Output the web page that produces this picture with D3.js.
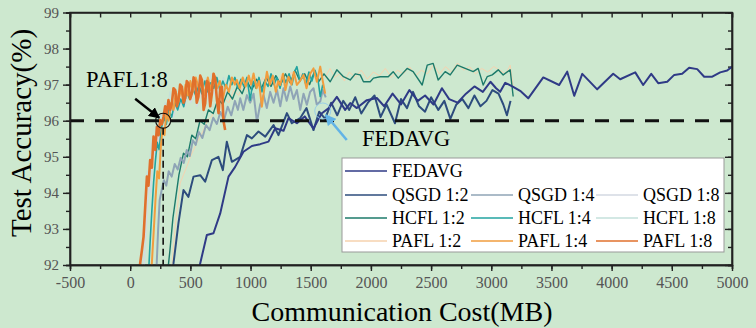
<!DOCTYPE html>
<meta charset="utf-8">
<style>
body { margin: 0; background: #cde8cf; }
svg text { font-family: "Liberation Serif", "Times New Roman", serif; }
</style>
<body>
<div id="chart"></div>
<script src="https://cdn.jsdelivr.net/npm/d3@7"></script>
<script>
// each curve: [communication cost (MB), test accuracy (%)]
var fedavg = [[560,91.6],[582,92.05],[637,92.83],[692,92.88],[748,93.43],[817,94.45],[872,94.72],[941,95.14],[1011,95.30],[1080,95.35],[1149,95.42],[1205,95.79],[1274,95.72],[1315,96.07],[1385,95.93],[1450,96.12],[1523,95.78],[1590,96.20],[1650,96.35],[1717,96.66],[1786,96.30],[1828,96.49],[1883,96.35],[1966,96.57],[2049,96.63],[2110,96.40],[2180,96.75],[2250,96.45],[2320,96.85],[2390,96.55],[2450,96.70],[2520,96.45],[2590,96.90],[2650,96.60],[2720,96.50],[2790,96.75],[2860,96.95],[2930,96.80],[2993,97.08],[3040,96.90],[3074,96.80],[3116,97.05],[3182,96.94],[3240,96.83],[3307,96.62],[3432,97.20],[3564,96.99],[3631,97.36],[3689,96.69],[3756,97.30],[3880,96.87],[4013,97.30],[4071,97.15],[4196,97.34],[4262,96.99],[4329,97.30],[4387,97.04],[4462,97.08],[4520,97.27],[4586,97.30],[4644,97.47],[4711,97.43],[4769,97.22],[4836,97.22],[4902,97.34],[4960,97.39],[5002,97.50]];

var qsgd2 = [[340,91.6],[360,92.05],[401,93.16],[443,94.08],[484,93.89],[526,94.45],[582,94.49],[623,94.31],[679,94.91],[733,95.00],[770,94.63],[803,95.42],[845,94.86],[914,95.00],[970,95.60],[1011,95.51],[1066,95.70],[1122,95.56],[1191,95.88],[1232,95.60],[1302,96.21],[1343,95.93],[1412,96.07],[1465,96.35],[1523,95.74],[1570,96.25],[1620,96.05],[1670,96.50],[1720,96.15],[1770,96.55],[1820,96.30],[1870,96.65],[1920,96.20],[1975,96.50],[2030,96.70],[2080,96.10],[2130,96.45],[2200,95.93],[2250,96.60],[2300,96.35],[2350,96.80],[2400,96.40],[2450,96.25],[2500,96.65],[2560,96.30],[2610,96.55],[2660,96.05],[2710,96.45],[2760,96.60],[2810,96.35],[2860,96.70],[2910,96.40],[2960,96.55],[3010,96.85],[3060,96.75],[3100,96.45],[3130,96.15],[3160,96.55]];

var qsgd4 = [[215,91.6],[232,92.97],[245,93.80],[262,94.08],[280,94.35],[300,94.20],[320,94.60],[345,94.45],[370,94.80],[395,94.65],[420,94.97],[445,94.83],[470,95.19],[495,95.02],[520,95.46],[545,95.33],[570,95.69],[600,95.52],[630,95.88],[660,95.74],[690,96.08],[720,95.91],[750,96.24],[780,96.02],[810,96.39],[840,96.15],[870,96.55],[895,96.30],[914,96.62],[940,96.30],[970,96.71],[997,96.50],[1025,96.75],[1053,95.97],[1080,96.45],[1108,96.71],[1135,96.35],[1163,96.80],[1191,96.50],[1220,96.85],[1247,96.40],[1274,96.90],[1300,96.55],[1330,96.95],[1357,96.60],[1385,96.85],[1413,96.30],[1440,96.75],[1468,96.44],[1495,96.80],[1523,96.90],[1550,96.45],[1579,96.53],[1600,96.85],[1625,96.65]];

var qsgd8 = [[110,91.6],[125,92.6],[140,93.5],[155,94.2],[170,94.0],[185,94.8],[200,95.2],[215,95.0],[230,95.6],[245,95.4],[260,95.9],[280,95.7],[300,96.2],[320,96.0],[340,96.4],[360,96.1],[385,96.6],[405,96.3],[430,96.7],[455,96.4],[480,96.8],[505,96.5],[530,96.9],[555,96.4],[580,96.8],[605,96.6],[630,97.0],[655,96.5],[680,96.9],[705,96.7],[730,97.0],[755,96.6],[780,96.9],[800,96.7]];

var hcfl2 = [[305,91.6],[330,92.4],[355,93.3],[380,93.9],[405,94.5],[443,95.1],[475,95.0],[512,95.6],[545,95.5],[580,96.0],[615,95.9],[650,96.3],[690,96.2],[730,96.6],[770,96.45],[810,96.8],[850,96.6],[890,96.95],[930,96.75],[970,97.1],[1010,96.85],[1050,97.15],[1090,96.9],[1130,97.2],[1170,96.95],[1210,97.25],[1250,97.0],[1290,97.3],[1330,97.05],[1370,97.4],[1410,97.1],[1450,97.3],[1490,97.0],[1530,97.35],[1570,97.1],[1610,97.3],[1662,97.08],[1717,97.41],[1772,97.22],[1828,97.13],[1870,97.3],[1911,97.27],[1938,97.08],[1994,97.08],[2021,97.18],[2077,97.22],[2144,97.22],[2185,97.36],[2227,97.18],[2301,97.45],[2351,97.36],[2426,96.99],[2468,97.54],[2517,97.59],[2559,97.13],[2617,97.36],[2659,97.27],[2717,97.54],[2783,97.45],[2850,97.36],[2891,97.45],[2933,96.99],[2966,97.22],[3008,97.27],[3058,97.41],[3099,97.27],[3157,97.41],[3182,96.67]];

var hcfl4 = [[150,91.6],[165,92.6],[180,93.5],[195,94.3],[210,94.9],[225,95.4],[240,95.2],[260,95.8],[280,96.1],[300,95.9],[320,96.3],[345,96.1],[370,96.5],[395,96.3],[420,96.6],[445,96.39],[470,96.8],[495,96.6],[520,96.9],[545,96.7],[570,97.0],[595,96.75],[620,97.1],[645,96.8],[670,97.05],[695,96.9],[720,97.2],[745,96.85],[770,97.1],[795,96.9],[820,97.25],[845,97.0],[870,97.2],[895,96.9],[920,97.15],[945,96.95],[970,97.2],[997,96.57],[1020,97.1],[1045,96.9],[1070,97.2],[1095,96.8],[1120,97.1],[1145,96.95],[1170,97.3],[1195,97.0],[1220,97.2],[1245,96.9],[1270,97.25],[1295,97.05],[1320,97.3],[1345,97.0],[1365,97.35],[1385,97.5],[1410,97.1],[1435,97.3],[1460,97.0],[1485,97.35],[1510,97.1],[1535,97.4],[1560,97.15],[1579,96.67],[1600,97.0]];

var hcfl8 = [[95,91.6],[110,92.8],[125,93.9],[140,94.6],[155,94.4],[170,95.2],[185,95.5],[200,95.3],[215,95.9],[230,95.7],[250,96.2],[270,96.0],[290,96.5],[310,96.3],[330,96.8],[350,96.5],[375,96.9],[400,96.6],[425,97.0],[450,96.7],[475,97.1],[500,96.8],[525,97.2],[550,96.9],[575,97.1],[600,96.8],[625,97.2],[650,96.9],[675,97.3],[700,97.0],[725,97.2],[750,96.9],[775,97.2],[795,97.0]];

var pafl2 = [[335,91.6],[350,92.1],[374,93.06],[415,94.27],[443,94.5],[471,94.73],[500,95.0],[526,95.19],[555,95.4],[582,95.56],[609,95.74],[640,96.0],[675,96.1],[710,96.4],[745,96.3],[780,96.6],[820,96.5],[860,96.85],[900,96.7],[940,97.0],[980,96.8],[1020,97.1],[1060,96.9],[1100,97.2],[1140,96.95],[1180,97.25],[1220,97.0],[1260,97.3],[1300,97.05],[1340,97.35],[1380,97.1],[1420,97.3],[1460,97.05],[1500,97.35],[1540,97.15],[1580,97.4],[1620,97.2],[1660,97.45],[1700,97.2],[1740,97.3],[1780,97.1],[1820,97.35],[1870,97.2],[1920,97.4],[1970,97.15],[2020,97.35],[2070,97.25],[2120,97.45],[2170,97.2],[2220,97.4],[2270,97.3],[2320,97.5],[2370,97.25],[2420,97.4],[2470,97.3],[2520,97.55],[2570,97.3],[2620,97.5],[2670,97.35],[2720,97.6],[2770,97.4],[2820,97.5],[2870,97.3],[2920,97.45],[2970,97.35],[3020,97.5],[3070,97.4],[3120,97.3],[3157,97.54],[3182,96.94]];

var pafl4 = [[170,91.6],[180,92.05],[195,92.9],[210,93.8],[225,94.6],[240,94.4],[255,95.3],[270,95.8],[285,95.6],[300,96.2],[320,96.0],[340,96.5],[360,96.3],[380,96.8],[400,96.5],[420,96.9],[440,96.6],[460,97.0],[480,96.7],[500,97.1],[520,96.8],[545,97.2],[570,96.9],[595,97.1],[620,96.7],[645,97.2],[670,96.85],[695,97.3],[720,96.9],[745,97.1],[770,96.6],[795,97.0],[820,96.8],[845,97.2],[870,97.0],[886,97.13],[910,96.9],[935,97.2],[960,96.95],[985,97.25],[1005,97.0],[1025,97.31],[1050,96.9],[1070,97.1],[1094,96.39],[1115,96.9],[1136,97.36],[1160,97.0],[1185,97.25],[1210,96.8],[1230,97.1],[1246,96.99],[1270,97.3],[1290,96.85],[1315,97.22],[1340,97.0],[1360,97.35],[1385,96.99],[1410,97.1],[1440,97.27],[1465,96.9],[1495,97.3],[1523,97.45],[1551,97.08],[1579,97.5],[1600,97.1],[1620,96.75]];

var pafl8 = [[75,91.6],[83,92.05],[97,92.4],[111,92.78],[125,93.62],[139,94.45],[152,94.2],[166,94.91],[180,94.7],[194,95.56],[208,95.19],[222,95.83],[236,95.6],[249,96.02],[263,95.9],[277,96.11],[291,96.4],[305,96.21],[318,96.57],[332,96.3],[346,96.48],[360,96.9],[374,96.85],[388,96.4],[401,96.57],[415,97.0],[430,96.94],[443,96.5],[457,96.62],[470,97.1],[484,97.04],[498,96.6],[513,96.76],[527,97.2],[540,97.08],[553,96.5],[567,96.67],[582,97.25],[596,97.13],[610,96.3],[623,96.48],[637,97.1],[651,97.04],[665,96.4],[679,96.76],[692,97.3],[706,97.18],[720,96.6],[734,96.21],[748,96.9],[762,96.94],[775,96.0],[789,95.74]];

var seriesNames = ["FEDAVG", "QSGD 1:2", "QSGD 1:4", "QSGD 1:8", "HCFL 1:2", "HCFL 1:4", "HCFL 1:8", "PAFL 1:2", "PAFL 1:4", "PAFL 1:8"];
var seriesData = [fedavg, qsgd2, qsgd4, qsgd8, hcfl2, hcfl4, hcfl8, pafl2, pafl4, pafl8];
var seriesColors = ["#2f3a86", "#2d4c7d", "#8fa4b6", "#d3d9e2", "#1c7a6a", "#22a3a0", "#c4e0db", "#f6d2ae", "#f19d3e", "#e0702c"];
var seriesWidths = [2, 2, 2, 1.2, 1.4, 1.6, 1.2, 1, 2, 2.6];
// order the curves are painted in (last on top)
var drawOrder = [3, 6, 7, 4, 2, 5, 8, 1, 0, 9];

var xTickValues = [-500, 0, 500, 1000, 1500, 2000, 2500, 3000, 3500, 4000, 4500, 5000];
var yTickValues = [92, 93, 94, 95, 96, 97, 98, 99];
var threshold = 96;
var paflCross = [274, 96];   // PAFL 1:8 reaches 96 %
var fedavgCross = [1600, 96.27];

var width = 756, height = 328;
var x = d3.scaleLinear().domain([-500, 5000]).range([70, 732]);
var y = d3.scaleLinear().domain([92, 99]).range([265, 12.5]);

var svg = d3.select("#chart").append("svg")
    .attr("width", width)
    .attr("height", height);

svg.append("rect").attr("width", width).attr("height", height).attr("fill", "#cde8cf");

var defs = svg.append("defs");
defs.append("clipPath").attr("id", "plot")
  .append("rect")
    .attr("x", x.range()[0]).attr("y", y.range()[1])
    .attr("width", x.range()[1] - x.range()[0])
    .attr("height", y.range()[0] - y.range()[1]);

function arrowHead(id, color) {
  defs.append("marker")
      .attr("id", id)
      .attr("viewBox", "0 0 10 10")
      .attr("refX", 9).attr("refY", 5)
      .attr("markerUnits", "userSpaceOnUse")
      .attr("markerWidth", 11).attr("markerHeight", 11)
      .attr("orient", "auto")
    .append("path")
      .attr("d", "M0,0L10,5L0,10z")
      .attr("fill", color);
}
arrowHead("arrowBlack", "#000");
arrowHead("arrowBlue", "#62b3e6");

// minor ticks first, majors drawn over them
var xMinor = d3.range(-500, 5001, 250);
var yMinor = d3.range(92, 99.01, 0.5);

function axisGroup(axis, tx, ty, fontSize) {
  var g = svg.append("g")
      .attr("transform", "translate(" + tx + "," + ty + ")")
      .call(axis);
  g.selectAll("line, .domain").attr("stroke", "#222").attr("stroke-width", 1.4);
  g.selectAll("text")
      .attr("fill", "#555")
      .style("font-family", '"Liberation Serif", "Times New Roman", serif')
      .style("font-size", (fontSize || 15) + "px");
  return g;
}

axisGroup(d3.axisBottom(x).tickValues(xMinor).tickSize(4).tickFormat(""), 0, 265);
axisGroup(d3.axisTop(x).tickValues(xMinor).tickSize(-5).tickFormat(""), 0, 12.5);
axisGroup(d3.axisLeft(y).tickValues(yMinor).tickSize(4).tickFormat(""), 70, 0);
axisGroup(d3.axisRight(y).tickValues(yMinor).tickSize(-4).tickFormat(""), 732, 0);

axisGroup(d3.axisBottom(x).tickValues(xTickValues).tickSize(6).tickSizeOuter(0).tickPadding(6)
    .tickFormat(function(d) { return String(d); }), 0, 265, 16);
axisGroup(d3.axisLeft(y).tickValues(yTickValues).tickSize(7).tickSizeOuter(0).tickPadding(4)
    .tickFormat(d3.format("d")), 70, 0);
axisGroup(d3.axisRight(y).tickValues(yTickValues).tickSize(-7).tickSizeOuter(0).tickFormat(""), 732, 0);

// curves
var line = d3.line()
    .x(function(d) { return x(d[0]); })
    .y(function(d) { return y(d[1]); });

var curves = svg.append("g").attr("clip-path", "url(#plot)");
drawOrder.forEach(function(i) {
  curves.append("path")
      .datum(seriesData[i])
      .attr("fill", "none")
      .attr("stroke", seriesColors[i])
      .attr("stroke-width", seriesWidths[i])
      .attr("stroke-linejoin", "round")
      .attr("d", line);
});

// 96 % reference line
svg.append("line")
    .attr("x1", x.range()[0]).attr("x2", x.range()[1])
    .attr("y1", y(threshold)).attr("y2", y(threshold))
    .attr("stroke", "#111")
    .attr("stroke-width", 3)
    .attr("stroke-dasharray", "14,11");

// PAFL 1:8 marker
var cx = x(paflCross[0]), cy = y(paflCross[1]);
svg.append("line")
    .attr("x1", cx).attr("x2", cx)
    .attr("y1", cy + 7).attr("y2", y.range()[0])
    .attr("stroke", "#111").attr("stroke-width", 1.6)
    .attr("stroke-dasharray", "7,4");
svg.append("circle")
    .attr("cx", cx).attr("cy", cy).attr("r", 7.5)
    .attr("fill", "none").attr("stroke", "#111").attr("stroke-width", 1.1);
svg.append("line")
    .attr("x1", cx - 28).attr("y1", cy - 22)
    .attr("x2", cx - 4).attr("y2", cy - 3)
    .attr("stroke", "#000").attr("stroke-width", 2.4)
    .attr("marker-end", "url(#arrowBlack)");
svg.append("text")
    .attr("x", 86).attr("y", 87)
    .attr("font-size", "22.5px")
    .text("PAFL1:8");

// FEDAVG marker
var fx = x(fedavgCross[0]), fy = y(fedavgCross[1]);
svg.append("circle")
    .attr("cx", fx).attr("cy", fy).attr("r", 8)
    .attr("fill", "none").attr("stroke", "#8cc8ec").attr("stroke-width", 1).attr("opacity", 0.8);
svg.append("line")
    .attr("x1", fx + 24).attr("y1", fy + 29)
    .attr("x2", fx + 3).attr("y2", fy + 4)
    .attr("stroke", "#62b3e6").attr("stroke-width", 2.6)
    .attr("marker-end", "url(#arrowBlue)");
svg.append("text")
    .attr("x", 362).attr("y", 146)
    .attr("font-size", "22.5px")
    .text("FEDAVG");

// plot frame
svg.append("rect")
    .attr("x", x.range()[0]).attr("y", y.range()[1])
    .attr("width", x.range()[1] - x.range()[0])
    .attr("height", y.range()[0] - y.range()[1])
    .attr("fill", "none").attr("stroke", "#222").attr("stroke-width", 1.5);

// legend
var legend = svg.append("g");
legend.append("rect")
    .attr("x", 342).attr("y", 158).attr("width", 382).attr("height", 94)
    .attr("fill", "#fff").attr("stroke", "#999").attr("stroke-width", 1);

var colX = [345, 471, 596];
var rowY = [171, 195, 218, 241];
seriesNames.forEach(function(name, i) {
  var col = i == 0 ? 0 : (i - 1) % 3;
  var row = i == 0 ? 0 : Math.floor((i - 1) / 3) + 1;
  var lx = colX[col], ly = rowY[row];
  legend.append("line")
      .attr("x1", lx).attr("x2", lx + 42)
      .attr("y1", ly).attr("y2", ly)
      .attr("stroke", seriesColors[i]).attr("stroke-width", 1.6);
  legend.append("text")
      .attr("x", lx + 47).attr("y", ly + 6)
      .attr("font-size", "18px")
      .text(name);
});

// axis titles
svg.append("text")
    .attr("transform", "translate(31,133) rotate(-90)")
    .attr("text-anchor", "middle")
    .attr("font-size", "29px")
    .text("Test Accuracy(%)");
svg.append("text")
    .attr("x", 402).attr("y", 321)
    .attr("text-anchor", "middle")
    .attr("font-size", "28px")
    .text("Communication Cost(MB)");
</script>
</body>
